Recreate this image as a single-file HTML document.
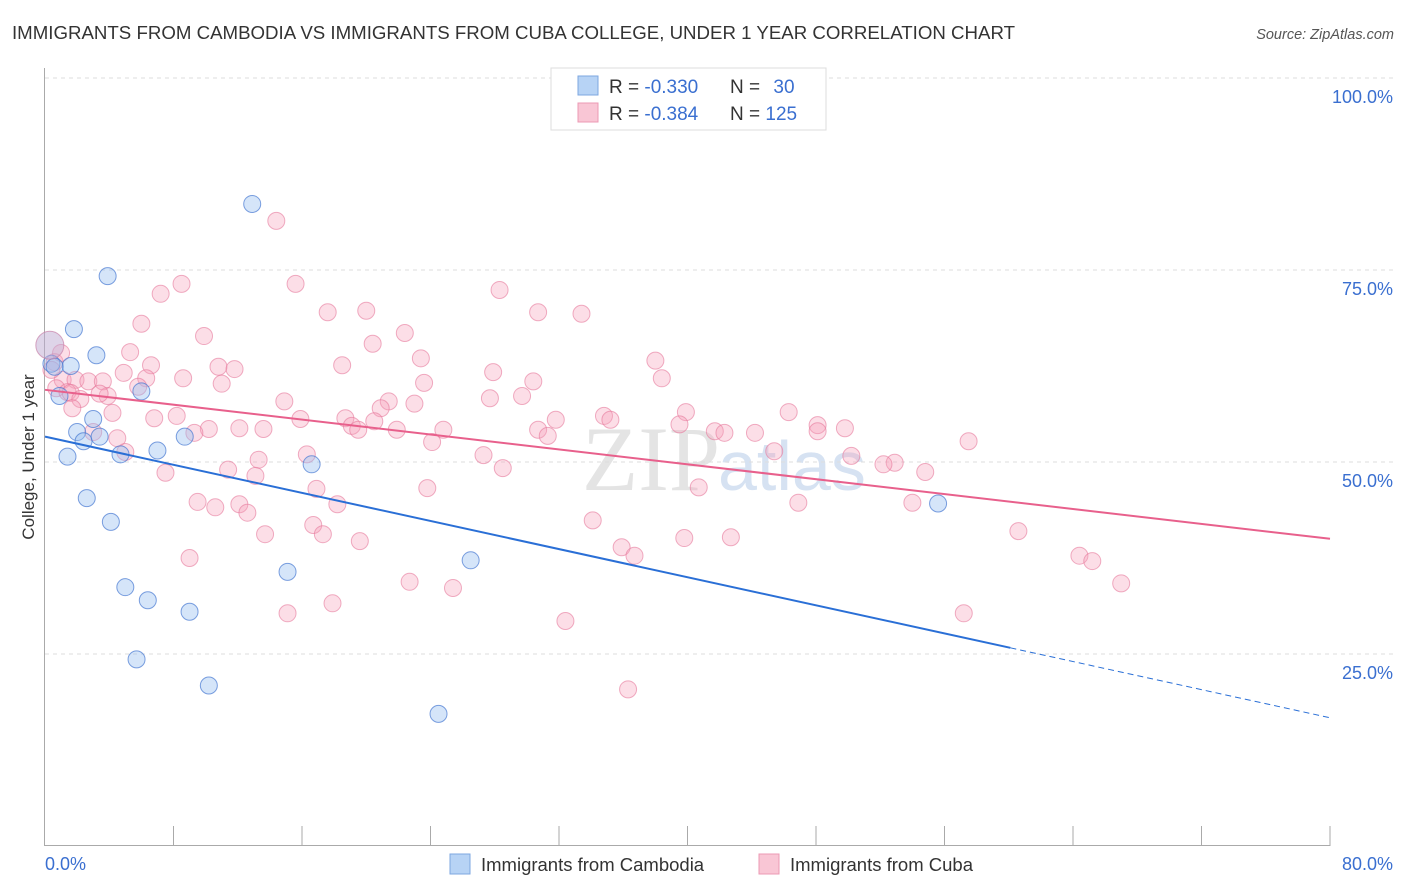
<!DOCTYPE html>
<html><head><meta charset="utf-8"><style>
body{margin:0;background:#fff;font-family:"Liberation Sans",sans-serif;}
#wrap{position:relative;width:1406px;height:892px;overflow:hidden;}
</style></head><body>
<div id="wrap">
<svg id="svg" width="1406" height="892" xmlns="http://www.w3.org/2000/svg">
<text x="12" y="39" font-size="18" fill="#333" textLength="1003" lengthAdjust="spacingAndGlyphs">IMMIGRANTS FROM CAMBODIA VS IMMIGRANTS FROM CUBA COLLEGE, UNDER 1 YEAR CORRELATION CHART</text>
<text x="1394" y="39" font-size="14.5" fill="#555" font-style="italic" text-anchor="end">Source: ZipAtlas.com</text>
<text x="720" y="490" font-size="92" fill="#e4e4e4" text-anchor="end" font-family="Liberation Serif">ZIP</text>
<text x="718" y="490" font-size="70" fill="#d6e2f2">atlas</text>
<g id="grid"></g><g id="axes"></g><g id="marks"></g><g id="lines"></g>
<text transform="translate(34,457) rotate(-90)" font-size="17" fill="#333" text-anchor="middle">College, Under 1 year</text>
<g>
<rect x="551" y="68" width="275" height="62" fill="#fff" stroke="#ddd"/>
<rect x="578" y="76" width="20" height="19" fill="#b7d3f5" stroke="#7ea7e0"/>
<rect x="578" y="103" width="20" height="19" fill="#f9c6d5" stroke="#ec9ab4"/>
<text x="609" y="93" font-size="19" fill="#333">R = <tspan fill="#3a6fd0">-0.330</tspan></text>
<text x="730" y="93" font-size="19" fill="#333">N = <tspan fill="#3a6fd0" dx="8">30</tspan></text>
<text x="609" y="120" font-size="19" fill="#333">R = <tspan fill="#3a6fd0">-0.384</tspan></text>
<text x="730" y="120" font-size="19" fill="#333">N = <tspan fill="#3a6fd0">125</tspan></text>
</g>
<g>
<rect x="450" y="854" width="20" height="20" fill="#b7d3f5" stroke="#7ea7e0"/>
<text x="481" y="871" font-size="18.5" fill="#333">Immigrants from Cambodia</text>
<rect x="759" y="854" width="20" height="20" fill="#f9c6d5" stroke="#ec9ab4"/>
<text x="790" y="871" font-size="18.5" fill="#333">Immigrants from Cuba</text>
</g>
</svg>
</div>
<script>
const yTicks=[25,50,75,100];
const yTickLabels=["25.0%","50.0%","75.0%","100.0%"];
const xTickLabels=["0.0%","80.0%"];
const cambX=[12.9,3.9,1.8,3.2,0.4,1.6,0.9,6.0,3.0,2.0,2.4,3.4,1.4,4.7,7.0,8.7,16.6,2.6,4.1,5.0,6.4,9.0,15.1,26.5,5.7,10.2,24.5,55.6,0.6];
const cambY=[83.6,74.2,67.3,63.9,62.8,62.5,58.6,59.2,55.6,53.9,52.7,53.3,50.7,51.0,51.5,53.3,49.7,45.3,42.2,33.7,32.0,30.5,35.7,37.2,24.3,20.9,17.2,44.6,62.4];
const cubaX=[14.4,8.5,15.6,7.2,28.3,6.0,17.6,20.0,30.7,33.4,9.9,22.4,20.4,5.3,23.4,18.5,38.0,0.6,6.6,10.8,11.8,4.9,27.9,38.4,8.6,6.3,1.1,1.9,2.7,3.6,23.6,11.0,30.4,5.8,0.7,1.4,1.6,2.2,3.9,3.4,14.9,27.7,29.7,21.4,23.0,20.9,1.7,4.2,8.2,6.8,15.9,18.7,39.9,46.3,34.8,20.5,19.1,31.8,48.1,49.8,41.7,42.3,13.6,12.1,10.2,21.9,24.8,35.2,30.7,31.3,44.2,39.5,48.1,9.3,19.5,3.0,4.5,24.1,57.5,5.0,45.4,27.3,13.3,16.3,50.2,52.9,52.2,28.5,11.4,13.1,7.5,54.8,16.9,23.8,40.7,9.5,10.6,12.1,18.2,12.6,54.0,46.9,34.1,13.7,16.7,17.3,19.6,39.8,42.7,35.9,36.7,60.6,9.0,64.4,65.2,22.7,25.4,67.0,17.9,15.1,57.2,32.4,36.3,1.0,0.4];
const cubaY=[81.4,73.2,73.2,71.9,72.4,68.0,69.5,69.7,69.5,69.3,66.4,66.8,65.4,64.3,63.5,62.6,63.2,63.0,62.6,62.4,62.1,61.6,61.7,60.9,60.9,60.9,60.7,60.7,60.5,60.5,60.3,60.2,60.5,59.8,59.6,59.1,59.0,58.2,58.6,58.9,57.9,58.3,58.6,57.9,57.6,57.0,57.0,56.4,56.0,55.7,55.6,55.7,56.5,56.5,56.0,55.3,54.7,55.5,54.8,54.4,54.0,53.8,54.3,54.4,54.3,54.2,54.2,55.5,54.2,53.4,53.8,54.9,54.0,53.8,54.2,53.9,53.1,52.6,52.7,51.3,51.4,50.9,50.3,51.0,50.8,49.9,49.7,49.2,49.0,48.2,48.6,48.7,46.5,46.6,46.7,44.8,44.1,44.5,44.5,43.4,44.7,44.7,42.4,40.6,41.8,40.6,39.7,40.1,40.2,38.9,37.8,41.0,37.5,37.8,37.1,34.4,33.6,34.2,31.6,30.3,30.3,29.3,20.4,64.2,62.0];
const cambBig=[0.3,65.2];
const cambTrend=[53.3,16.7];
const cambSolidEnd=60.1;
const cubaTrend=[59.4,40.0];

const X=v=>45+v/80*1285;
const Y=v=>846-v*7.68;
const NS="http://www.w3.org/2000/svg";
function mk(tag,attrs,parent){const e=document.createElementNS(NS,tag);for(const k in attrs)e.setAttribute(k,attrs[k]);document.getElementById(parent).appendChild(e);return e;}

yTicks.forEach((t,i)=>{
  const g=mk('line',{x1:45,x2:1394,y1:Y(t),y2:Y(t),stroke:'#ddd','stroke-dasharray':'4,4'},'grid');
  
  
  const tx=mk('text',{x:1393,y:Y(t)+25,'font-size':18,fill:'#3a6fd0','text-anchor':'end'},'grid');
  tx.textContent=yTickLabels[i];
  
  
});
const ax=mk('line',{x1:44.5,x2:44.5,y1:68,y2:846,stroke:'#aaa'},'axes');


const bx=mk('line',{x1:44,x2:1330,y1:845.5,y2:845.5,stroke:'#aaa'},'axes');


for(let i=1;i<=10;i++){
  const t=mk('line',{x1:X(i*8),x2:X(i*8),y1:826,y2:846,stroke:'#aaa'},'axes');
  
  
}
const xl0=mk('text',{x:45,y:870,'font-size':18,fill:'#3a6fd0'},'axes');
xl0.textContent=xTickLabels[0];


const xl1=mk('text',{x:1393,y:870,'font-size':18,fill:'#3a6fd0','text-anchor':'end'},'axes');
xl1.textContent=xTickLabels[1];



cubaX.forEach((v,i)=>{
  const c=mk('circle',{cx:X(v),cy:Y(cubaY[i]),r:8.5,fill:'rgba(245,160,185,0.35)',stroke:'rgba(230,120,155,0.6)','stroke-width':1},'marks');
  
  
});
cambX.forEach((v,i)=>{
  const c=mk('circle',{cx:X(v),cy:Y(cambY[i]),r:8.5,fill:'rgba(150,190,240,0.4)',stroke:'rgba(70,120,210,0.7)','stroke-width':1},'marks');
  
  
});
const bb=mk('circle',{cx:X(cambBig[0]),cy:Y(cambBig[1]),r:14,fill:'rgba(190,170,210,0.5)',stroke:'rgba(200,130,170,0.7)'},'marks');



const l1=mk('line',{x1:X(0),y1:Y(cubaTrend[0]),x2:X(80),y2:Y(cubaTrend[1]),stroke:'#e8608c','stroke-width':2},'lines');


const bAt=x=>cambTrend[0]+(cambTrend[1]-cambTrend[0])*x/80;
const l2=mk('line',{x1:X(0),y1:Y(cambTrend[0]),x2:X(cambSolidEnd),y2:Y(bAt(cambSolidEnd)),stroke:'#2a6fd6','stroke-width':2},'lines');


const l3=mk('line',{x1:X(cambSolidEnd),y1:Y(bAt(cambSolidEnd)),x2:X(80),y2:Y(cambTrend[1]),stroke:'#2a6fd6','stroke-width':1,'stroke-dasharray':'6,4'},'lines');


</script>
</body></html>
